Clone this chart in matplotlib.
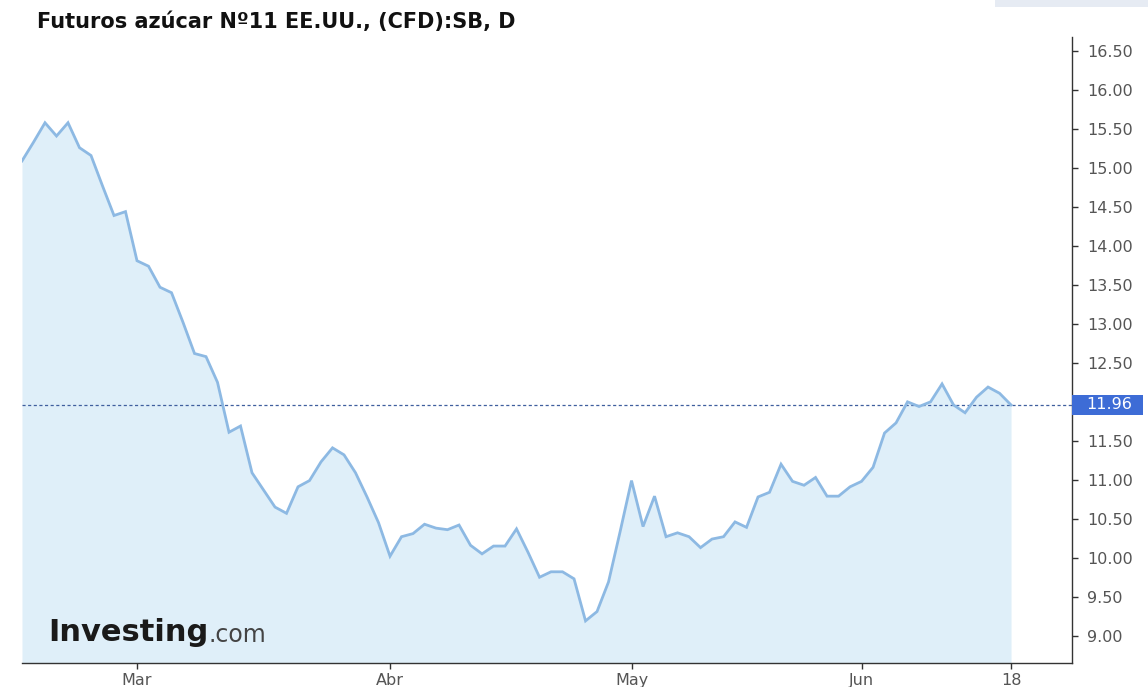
import matplotlib
matplotlib.use('Agg')
import matplotlib.pyplot as plt
from matplotlib.patches import Rectangle
import numpy as np

# daily closes, Feb 14 .. Jun 18 (trading days)
prices = [15.09, 15.33, 15.58, 15.41, 15.58, 15.26, 15.16, 14.77, 14.39, 14.44,
          13.81, 13.74, 13.47, 13.40, 13.02, 12.62, 12.58, 12.25, 11.61, 11.69,
          11.09, 10.87, 10.65, 10.57, 10.91, 10.99, 11.23, 11.41, 11.32, 11.09,
          10.78, 10.45, 10.02, 10.27, 10.31, 10.43, 10.38, 10.36, 10.42, 10.16,
          10.05, 10.15, 10.15, 10.37, 10.07, 9.75, 9.82, 9.82, 9.73, 9.19,
          9.31, 9.69, 10.33, 10.99, 10.40, 10.79, 10.27, 10.32, 10.27, 10.13,
          10.24, 10.27, 10.46, 10.39, 10.78, 10.84, 11.20, 10.98, 10.93, 11.03,
          10.79, 10.79, 10.91, 10.98, 11.16, 11.60, 11.73, 12.00, 11.94, 12.00,
          12.23, 11.96, 11.86, 12.06, 12.19, 12.11, 11.96]
tick_pos = [10, 32, 53, 73, 86]
tick_labels = ['Mar', 'Abr', 'May', 'Jun', '18']
y_ticks = np.arange(9.0, 16.51, 0.5)
last_price = 11.96
title = 'Futuros azúcar Nº11 EE.UU., (CFD):SB, D'

x = np.arange(len(prices))

fig = plt.figure(figsize=(11.48, 6.87), dpi=100)
ax = fig.add_axes([22 / 1148, 24 / 687, 1050 / 1148, 626 / 687])

ymin, ymax = 8.65, 16.68
ax.fill_between(x, prices, ymin, color='#dfeff9', lw=0, zorder=1)
ax.plot(x, prices, color='#8db9e3', lw=2.0, zorder=3, solid_joinstyle='miter')
ax.axhline(last_price, color='#3f5f9e', lw=0.9, ls=(0, (2.5, 2)), zorder=2)

ax.set_xlim(0, 91.3)
ax.set_ylim(ymin, ymax)

for s in ['left', 'top']:
    ax.spines[s].set_visible(False)
for s in ['right', 'bottom']:
    ax.spines[s].set_color('#333333')
    ax.spines[s].set_linewidth(1.0)

ax.yaxis.tick_right()
ax.set_yticks(y_ticks)
ax.set_yticklabels([f'{v:.2f}' for v in y_ticks])
ax.set_xticks(tick_pos)
ax.set_xticklabels(tick_labels)
ax.tick_params(axis='y', direction='out', length=4, width=1, color='#333333',
               pad=7, labelsize=11.5, labelcolor='#555555')
ax.tick_params(axis='x', direction='out', length=4, width=1, color='#333333',
               pad=3, labelsize=11.5, labelcolor='#555555')

# last price label on the axis
ax.add_patch(Rectangle((1.0, last_price - 0.13), 0.068, 0.26,
                       transform=ax.get_yaxis_transform(), clip_on=False,
                       facecolor='#3d6cd6', edgecolor='none', zorder=5))
ax.text(1.0135, last_price, f'{last_price:.2f}', transform=ax.get_yaxis_transform(),
        ha='left', va='center', color='white', fontsize=11.5, zorder=6)

fig.text(37 / 1148, 1 - 22 / 687, title, fontsize=15, fontweight='bold',
         color='#111111', va='center', ha='left')

# top-right band
fig.patches.append(Rectangle((995 / 1148, 1 - 7 / 687), 153 / 1148, 7 / 687,
                             transform=fig.transFigure, facecolor='#e6ebf3',
                             edgecolor='none'))

# watermark
logo = ax.text(0.025, 0.035, 'Investing', transform=ax.transAxes, fontsize=22,
               fontweight='bold', color='#1a1a1a', ha='left', va='baseline',
               zorder=4)
ax.annotate('.com', xy=(1, 0), xycoords=logo, xytext=(0, 0),
            textcoords='offset points', fontsize=17, color='#444444',
            ha='left', va='bottom', zorder=4)

fig.savefig('out.png', dpi=100)
